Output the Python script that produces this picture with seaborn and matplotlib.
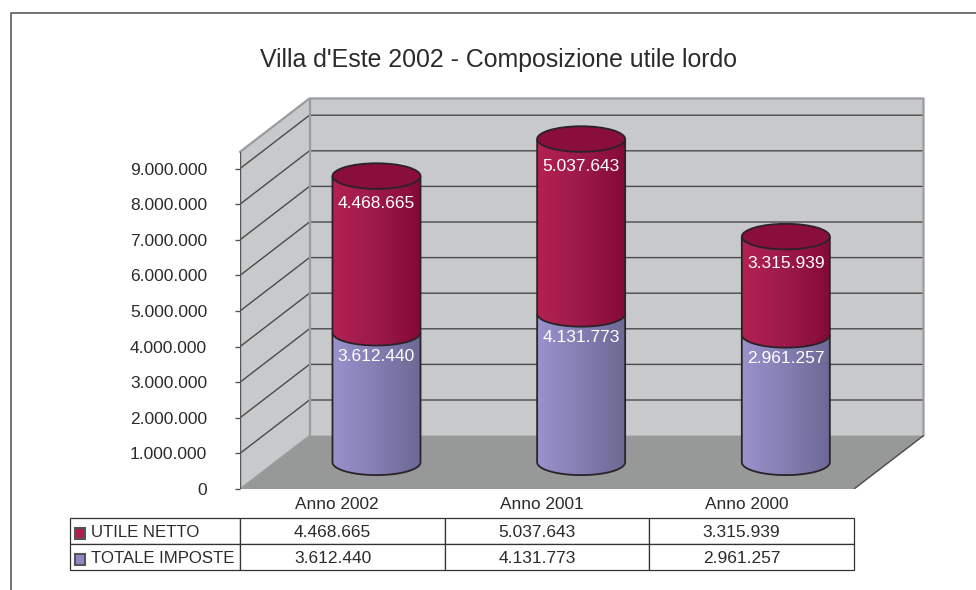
import numpy as np
import pandas as pd
import seaborn as sns
import matplotlib.pyplot as plt
from matplotlib.lines import Line2D
from matplotlib.patches import Ellipse, PathPatch, Polygon, Rectangle
from matplotlib.path import Path
from matplotlib.colors import LinearSegmentedColormap

# values printed in the picture
anni = ["Anno 2002", "Anno 2001", "Anno 2000"]
utile_netto = [4468665, 5037643, 3315939]
totale_imposte = [3612440, 4131773, 2961257]
y_ticks = [0, 1000000, 2000000, 3000000, 4000000, 5000000, 6000000, 7000000, 8000000, 9000000]
# heights as the cylinders are actually drawn
# (the 2000 cylinder does not agree with its own labels)
altezza_imposte = [3640000, 4170000, 3580000]
altezza_totale = [8040000, 9080000, 6340000]

W, H = 976, 590
TXT = "#2b2b2b"
GRID = "#4a4a4a"
WALL = "#c8c9cb"
FLOOR = "#979898"
EDGE = "#9a9b9d"

sns.set_theme(style="white")
plt.rcParams["font.family"] = ["Liberation Sans", "DejaVu Sans"]


def fmt(v):
    return f"{v:,}".replace(",", ".")


def px_axes(fig, x0, x1, y_top, y_bottom):
    return fig.add_axes([x0 / W, 1 - y_bottom / H, (x1 - x0) / W, (y_bottom - y_top) / H])


df = pd.DataFrame({"anno": anni, "netto": utile_netto, "imposte": totale_imposte,
                   "h_imposte": altezza_imposte, "h_totale": altezza_totale})

fig = plt.figure(figsize=(W / 100, H / 100), dpi=100, facecolor="white")

# chart frame only shows on the top and left
fig.add_artist(Line2D([10.5 / W, 10.5 / W, 1], [0, 1 - 12.5 / H, 1 - 12.5 / H], color="#5a5a5a", lw=1.2))
fig.text(499 / W, 1 - 59.5 / H, "Villa d'Este 2002 - Composizione utile lordo",
         ha="center", va="center", fontsize=17.95, color=TXT)

ax = px_axes(fig, 240, 924, 99, 489)
ax.patch.set_alpha(0)

# the two stacked layers come from seaborn, the cylinders are built on their rectangles
sns.barplot(data=df, x="anno", y="h_totale", color="#a01c4c", width=0.43, ax=ax)
n_tot = len(ax.patches)
sns.barplot(data=df, x="anno", y="h_imposte", color="#8480b4", width=0.43, ax=ax)
tot_bars = ax.patches[:n_tot]
imp_bars = ax.patches[n_tot:]

px_x = 614 / 3.0          # pixels per category
px_y = 35.6 / 1e6         # pixels per unit
dx = 69.5 / px_x          # depth of the 3d box
dy = 1.5e6
top = 9.47e6
x0, x1 = -0.5, 2.5
ry = 12.8 / px_y

# walls and floor
ax.add_patch(Polygon([(x0, 0), (x0, top), (x0 + dx, top + dy), (x0 + dx, dy)],
                     fc=WALL, ec="none", zorder=0.5))
ax.add_patch(Rectangle((x0 + dx, dy), x1 - x0, top, fc=WALL, ec="none", zorder=0.5))
ax.add_patch(Polygon([(x0, 0), (x1, 0), (x1 + dx, dy), (x0 + dx, dy)], fc=FLOOR, ec="none", zorder=0.6))
for v in y_ticks[1:]:
    ax.plot([x0, x0 + dx, x1 + dx], [v, v + dy, v + dy], color=GRID, lw=1, zorder=0.7, solid_joinstyle="miter")
ax.plot([x0, x0 + dx, x1 + dx, x1 + dx], [top, top + dy, top + dy, dy], color=EDGE, lw=1.6, zorder=0.8, clip_on=False)
ax.plot([x0 + dx, x0 + dx], [dy, top + dy], color=EDGE, lw=1.6, zorder=0.8)
ax.plot([x0, x0 + dx], [0, dy], color=EDGE, lw=1, zorder=0.8)
ax.plot([x1, x1 + dx], [0, dy], color="#4a4a4a", lw=1, zorder=0.8)
ax.plot([x0, x1], [0, 0], color=EDGE, lw=1, zorder=0.8)
ax.plot([x0, x0], [0, top], color="#555555", lw=1, zorder=0.9)

red = LinearSegmentedColormap.from_list("red", ["#b32152", "#9c1a4a", "#840936"])
blue = LinearSegmentedColormap.from_list("blue", ["#9a92cc", "#847eb2", "#6c6994"])
grad = np.linspace(0, 1, 128).reshape(1, -1)


def cylinder_part(left, width, y_low, y_high, cmap, z):
    t = np.linspace(np.pi, 2 * np.pi, 60)
    xs = left + width / 2 + width / 2 * np.cos(t)
    ys = y_low + ry * np.sin(t)
    verts = [(left, y_high)] + list(zip(xs, ys)) + [(left + width, y_high)]
    path = Path(verts)
    im = ax.imshow(grad, cmap=cmap, extent=(left, left + width, y_low - ry, y_high),
                   aspect="auto", zorder=z, interpolation="bilinear")
    clip = PathPatch(path, transform=ax.transData, fc="none", ec="none")
    ax.add_patch(clip)
    im.set_clip_path(clip)
    ax.add_patch(PathPatch(path, fc="none", ec="#2a2228", lw=1.3, zorder=z + 0.1))


for i, (tb, ib) in enumerate(zip(tot_bars, imp_bars)):
    tb.set_visible(False)
    ib.set_visible(False)
    left = tb.get_x() + dx / 2 - 0.6 / px_x
    w = tb.get_width()
    base = dy / 2
    mid = base + ib.get_height()
    high = base + tb.get_height()
    cylinder_part(left, w, base, mid, blue, 2)
    cylinder_part(left, w, mid, high, red, 3)
    ax.add_patch(Ellipse((left + w / 2, high), w, 2 * ry, fc="#8a0e3a", ec="#2a2228", lw=1.3, zorder=4))
    ax.text(left + w / 2, high - 0.76e6, fmt(df["netto"][i]), color="white", ha="center", va="center",
            fontsize=12.5, zorder=5)
    ax.text(left + w / 2, mid - 0.67e6, fmt(df["imposte"][i]), color="white", ha="center", va="center",
            fontsize=12.5, zorder=5)

ax.set_xlim(-0.5, -0.5 + 684 / px_x)
ax.set_ylim(0, 390 / px_y)
sns.despine(ax=ax, left=True, bottom=True)
ax.set_xlabel("")
ax.set_ylabel("")
ax.set_yticks(y_ticks, [fmt(v) for v in y_ticks], fontsize=12.5, color=TXT)
ax.set_xticks(np.arange(3) - 0.025, anni, fontsize=12.4, color=TXT)
ax.tick_params(axis="y", left=True, length=3.6, width=1, color="#555555", pad=20)
ax.tick_params(axis="x", bottom=False, length=0, pad=5.5)

# data table under the chart
tab_ax = px_axes(fig, 70, 854, 518, 570)
tab_ax.axis("off")
rows = [["UTILE NETTO"] + [fmt(v) for v in utile_netto],
        ["TOTALE IMPOSTE"] + [fmt(v) for v in totale_imposte]]
col_w = [170 / 784, 205 / 784, 204 / 784, 205 / 784]
tab = tab_ax.table(cellText=rows, colWidths=col_w, bbox=[0, 0, 1, 1], cellLoc="right")
tab.auto_set_font_size(False)
for (r, c), cell in tab.get_celld().items():
    cell.set_edgecolor("#333333")
    cell.set_linewidth(0.9)
    cell.set_fontsize(12.1 if c == 0 else 12.5)
    cell.get_text().set_color(TXT)
    cell.get_text().set_va("center_baseline")
    if c == 0:
        cell.get_text().set_ha("left")
        cell.PAD = 0.122
        cell._loc = "left"
    else:
        cell.PAD = 0.36
for k, col in enumerate(["#b01e50", "#9088c4"]):
    tab_ax.add_patch(Rectangle((4.5 / 784, (52 - 20.5 - 26 * k) / 52), 10.5 / 784, 11 / 52, transform=tab_ax.transAxes,
                               fc=col, ec="#555555", lw=1.5, zorder=10))

fig.savefig("out.png", dpi=100)
